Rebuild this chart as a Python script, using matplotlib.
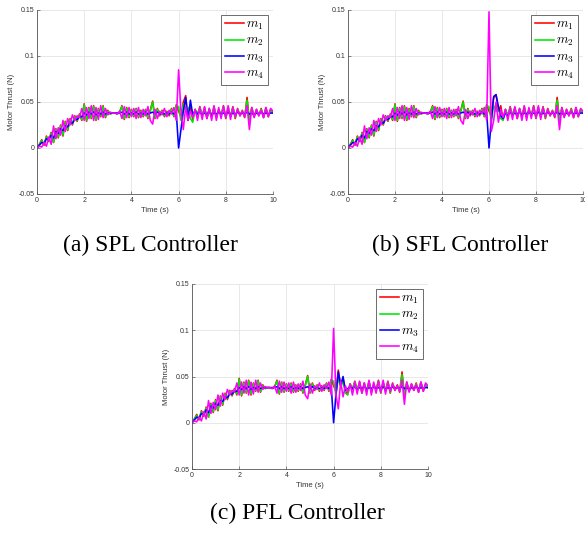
import numpy as np
import matplotlib
matplotlib.use("Agg")
import matplotlib.pyplot as plt

plt.rcParams['mathtext.fontset'] = 'cm'
plt.rcParams['font.family'] = ['Liberation Sans', 'DejaVu Sans']

# ---------------- data (time step 0.1 s, 0..10 s) ----------------
time_s = [round(0.1 * i, 1) for i in range(101)]

m1_base = [0.000, 0.004, 0.009, 0.003, 0.013, 0.007, 0.017, 0.006, 0.021, 0.011,
           0.025, 0.013, 0.029, 0.019, 0.032, 0.025, 0.035, 0.029, 0.037, 0.030,
           0.048, 0.029, 0.044, 0.032, 0.046, 0.030, 0.043, 0.034, 0.046, 0.033,
           0.041, 0.037, 0.038, 0.038, 0.037, 0.039, 0.046, 0.031, 0.044, 0.033,
           0.042, 0.034, 0.043, 0.033, 0.041, 0.034, 0.042, 0.032, 0.041, 0.051,
           0.032, 0.043, 0.035, 0.041, 0.034, 0.040, 0.035, 0.043, 0.034, 0.047,
           0.040, 0.034, 0.050, 0.057, 0.030, 0.046, 0.031, 0.042, 0.036, 0.045,
           0.035, 0.044, 0.032, 0.043, 0.034, 0.045, 0.033, 0.042, 0.035, 0.046,
           0.032, 0.044, 0.034, 0.045, 0.032, 0.043, 0.035, 0.041, 0.033, 0.055,
           0.030, 0.044, 0.034, 0.042, 0.035, 0.043, 0.033, 0.044, 0.034, 0.042,
           0.038]

m2_base = [0.000, 0.004, 0.008, 0.004, 0.012, 0.008, 0.016, 0.006, 0.020, 0.012,
           0.024, 0.014, 0.028, 0.020, 0.031, 0.026, 0.034, 0.030, 0.036, 0.031,
           0.047, 0.030, 0.043, 0.033, 0.045, 0.031, 0.042, 0.035, 0.045, 0.034,
           0.040, 0.037, 0.038, 0.038, 0.037, 0.039, 0.045, 0.032, 0.043, 0.034,
           0.041, 0.035, 0.042, 0.034, 0.040, 0.035, 0.041, 0.033, 0.040, 0.050,
           0.033, 0.042, 0.036, 0.040, 0.035, 0.039, 0.036, 0.042, 0.035, 0.046,
           0.045, 0.030, 0.048, 0.040, 0.044, 0.032, 0.028, 0.042, 0.037, 0.044,
           0.036, 0.043, 0.033, 0.042, 0.035, 0.044, 0.034, 0.041, 0.036, 0.045,
           0.033, 0.043, 0.035, 0.044, 0.033, 0.042, 0.036, 0.040, 0.034, 0.052,
           0.030, 0.043, 0.035, 0.041, 0.036, 0.042, 0.034, 0.043, 0.035, 0.041,
           0.038]

m3_base = [0.000, 0.003, 0.006, 0.005, 0.010, 0.009, 0.014, 0.011, 0.018, 0.016,
           0.021, 0.019, 0.024, 0.023, 0.028, 0.027, 0.031, 0.031, 0.034, 0.034,
           0.038, 0.036, 0.039, 0.037, 0.039, 0.036, 0.038, 0.037, 0.039, 0.037,
           0.038, 0.038, 0.038, 0.038, 0.038, 0.038, 0.039, 0.037, 0.039, 0.037,
           0.038, 0.037, 0.039, 0.037, 0.038, 0.037, 0.039, 0.037, 0.038, 0.039,
           0.037, 0.039, 0.037, 0.038, 0.037, 0.038, 0.037, 0.039, 0.037, 0.039,
           0.000, 0.020, 0.040, 0.055, 0.030, 0.052, 0.036, 0.040, 0.037, 0.039,
           0.036, 0.038, 0.037, 0.039, 0.036, 0.038, 0.037, 0.039, 0.037, 0.038,
           0.037, 0.039, 0.036, 0.038, 0.037, 0.039, 0.037, 0.038, 0.037, 0.039,
           0.037, 0.038, 0.036, 0.038, 0.037, 0.039, 0.037, 0.038, 0.037, 0.038,
           0.038]

m4_base = [0.000, 0.002, 0.001, 0.006, 0.002, 0.012, 0.004, 0.024, 0.010, 0.022,
           0.014, 0.030, 0.018, 0.032, 0.025, 0.036, 0.030, 0.035, 0.033, 0.043,
           0.030, 0.044, 0.032, 0.046, 0.030, 0.044, 0.031, 0.046, 0.033, 0.043,
           0.036, 0.039, 0.038, 0.038, 0.037, 0.040, 0.032, 0.045, 0.033, 0.044,
           0.034, 0.043, 0.032, 0.044, 0.033, 0.042, 0.035, 0.045, 0.030, 0.026,
           0.042, 0.032, 0.040, 0.036, 0.043, 0.034, 0.041, 0.037, 0.044, 0.030,
           0.085, 0.040, 0.020, 0.045, 0.030, 0.040, 0.033, 0.042, 0.030, 0.044,
           0.031, 0.045, 0.032, 0.043, 0.030, 0.046, 0.030, 0.044, 0.032, 0.045,
           0.033, 0.046, 0.031, 0.044, 0.034, 0.042, 0.035, 0.040, 0.034, 0.046,
           0.020, 0.044, 0.033, 0.042, 0.035, 0.041, 0.033, 0.044, 0.034, 0.043,
           0.040]

# spike window values (t = 6.0 .. 6.8 s) for the SFL and PFL controllers
window_start = 60
sfl_m1 = [0.040, 0.035, 0.055, 0.058, 0.040, 0.046, 0.031, 0.042, 0.034]
sfl_m2 = [0.045, 0.030, 0.046, 0.040, 0.044, 0.032, 0.030, 0.042, 0.036]
sfl_m3 = [0.000, 0.030, 0.056, 0.058, 0.045, 0.035, 0.032, 0.038, 0.035]
sfl_m4 = [0.148, 0.018, 0.030, 0.050, 0.028, 0.042, 0.033, 0.042, 0.030]

pfl_m1 = [0.040, 0.034, 0.057, 0.040, 0.048, 0.034, 0.031, 0.042, 0.036]
pfl_m2 = [0.045, 0.030, 0.048, 0.040, 0.044, 0.032, 0.030, 0.042, 0.037]
pfl_m3 = [0.000, 0.030, 0.055, 0.040, 0.050, 0.035, 0.037, 0.039, 0.037]
pfl_m4 = [0.102, 0.030, 0.015, 0.045, 0.028, 0.040, 0.033, 0.042, 0.030]

captions = ["(a) SPL Controller", "(b) SFL Controller", "(c) PFL Controller"]
legend_labels = [r"$m_1$", r"$m_2$", r"$m_3$", r"$m_4$"]
line_colors = ["#ff0000", "#00e600", "#0000ff", "#ff00ff"]
y_ticks = [-0.05, 0, 0.05, 0.1, 0.15]
y_ticklabels = ["-0.05", "0", "0.05", "0.1", "0.15"]
x_ticks = [0, 2, 4, 6, 8, 10]


def with_window(base, window):
    arr = list(base)
    arr[window_start:window_start + len(window)] = window
    return arr


panel_series = [
    [m1_base, m2_base, m3_base, m4_base],
    [with_window(m1_base, sfl_m1), with_window(m2_base, sfl_m2),
     with_window(m3_base, sfl_m3), with_window(m4_base, sfl_m4)],
    [with_window(m1_base, pfl_m1), with_window(m2_base, pfl_m2),
     with_window(m3_base, pfl_m3), with_window(m4_base, pfl_m4)],
]

W, H = 585, 538
fig = plt.figure(figsize=(W / 100, H / 100), dpi=100)

# axes boxes in pixels: left, right, top, bottom
boxes = [(37, 273, 10, 194), (348, 583, 10, 194), (192, 428, 284, 469)]
caption_pos = [(150, 245), (460, 245), (297, 513)]

for k, (l, r, t, b) in enumerate(boxes):
    ax = fig.add_axes([l / W, (H - b) / H, (r - l) / W, (b - t) / H])
    for series, c, lab in zip(panel_series[k], line_colors, legend_labels):
        ax.plot(time_s, series, color=c, lw=1.15, label=lab)
    ax.set_xlim(0, 10)
    ax.set_ylim(-0.05, 0.15)
    ax.set_xticks(x_ticks)
    ax.set_yticks(y_ticks)
    ax.set_yticklabels(y_ticklabels)
    ax.grid(True, color="#e4e4e4", lw=0.6)
    ax.set_axisbelow(True)
    for s in ["top", "right"]:
        ax.spines[s].set_visible(False)
    for s in ["left", "bottom"]:
        ax.spines[s].set_color("#555555")
        ax.spines[s].set_linewidth(0.6)
    ax.tick_params(direction="in", length=2, width=0.5, colors="#555555",
                   labelsize=5, labelcolor="#333333", pad=2)
    ax.set_xlabel("Time (s)", fontsize=5.5, color="#333333", labelpad=2)
    ax.set_ylabel("Motor Thrust (N)", fontsize=5.5, color="#333333", labelpad=2)
    leg = ax.legend(loc="upper right", fontsize=9.5, frameon=True, fancybox=False,
                    framealpha=1, edgecolor="#555555", handlelength=1.5,
                    handletextpad=0.15, labelspacing=0.22, borderpad=0.25,
                    borderaxespad=0.4)
    leg.get_frame().set_linewidth(0.6)
    cx, cy = caption_pos[k]
    fig.text(cx / W, 1 - cy / H, captions[k], ha="center", va="center",
             fontsize=17, family=["Liberation Serif", "DejaVu Serif"])

fig.savefig("out.png", dpi=100)
